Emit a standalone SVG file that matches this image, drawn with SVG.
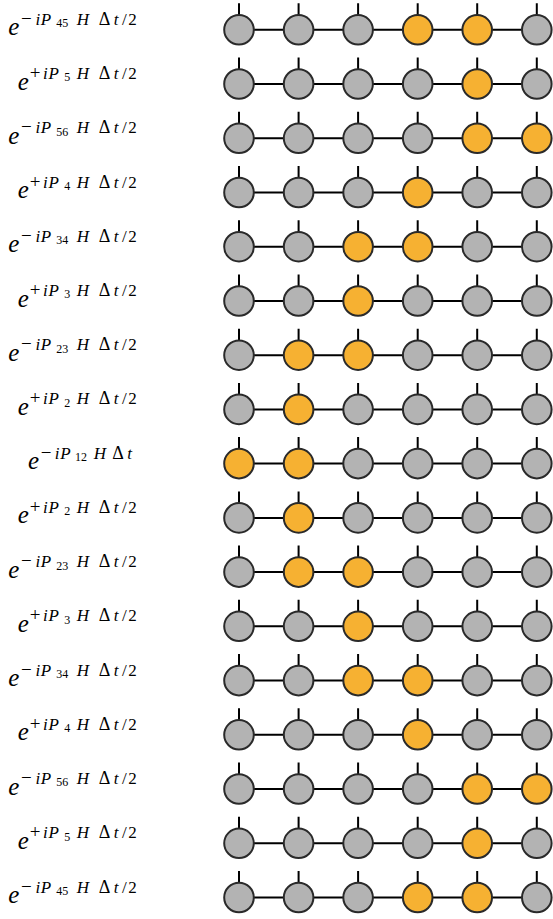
<svg xmlns="http://www.w3.org/2000/svg" xmlns:xlink="http://www.w3.org/1999/xlink" width="553" height="919" viewBox="0 0 553 919">
<style>
.g{fill:#b3b3b3;stroke:#2a2a2a;stroke-width:2}
.o{fill:#f6b132;stroke:#2a2a2a;stroke-width:2}
.w{fill:none;stroke:#000;stroke-width:2}
.lb{font-family:"Liberation Serif","Times New Roman",serif;fill:#000}
.e{font-size:25px;font-style:italic}
.sg{font-size:19px;font-style:normal}
.sl{font-size:17px;font-style:italic}
.sn{font-size:17px;font-style:normal}
.dl{font-size:18px;font-style:normal}
.sb{font-size:12px;font-style:normal}
</style>
<defs>
<path id="w" class="w" d="M239 -26.5V-14.8M298.6 -26.5V-14.8M358.1 -26.5V-14.8M417.7 -26.5V-14.8M477.2 -26.5V-14.8M536.8 -26.5V-14.8M253.8 0H283.8M313.4 0H343.3M372.9 0H402.9M432.5 0H462.4M492 0H522"/>
</defs>
<rect width="553" height="919" fill="#fff"/>
<g id="connectors">
<use href="#w" y="29.8"/><use href="#w" y="84"/><use href="#w" y="138.3"/><use href="#w" y="192.5"/><use href="#w" y="246.7"/><use href="#w" y="301"/><use href="#w" y="355.2"/><use href="#w" y="409.4"/><use href="#w" y="463.6"/><use href="#w" y="517.9"/><use href="#w" y="572.1"/><use href="#w" y="626.3"/><use href="#w" y="680.6"/><use href="#w" y="734.8"/><use href="#w" y="789"/><use href="#w" y="843.3"/><use href="#w" y="897.5"/>
</g>
<g id="row1" transform="translate(0,29.8)">
<g id="n1-1"><circle class="g" cx="239" r="14.8"/></g><g id="n1-2"><circle class="g" cx="298.6" r="14.8"/></g><g id="n1-3"><circle class="g" cx="358.1" r="14.8"/></g><g id="n1-4"><circle class="o" cx="417.7" r="14.8"/></g><g id="n1-5"><circle class="o" cx="477.2" r="14.8"/></g><g id="n1-6"><circle class="g" cx="536.8" r="14.8"/></g>
<g id="lab1"><text class="lb"><tspan class="e" x="8.3" y="5.5">e</tspan><tspan class="sg" x="21" y="-5">−</tspan><tspan class="sl" x="35.5">i</tspan><tspan class="sl" x="40.8">P</tspan><tspan class="sb" x="56.3" y="-2.6">45</tspan><tspan class="sl" x="76.8" y="-5">H</tspan><tspan class="dl" x="98.8">Δ</tspan><tspan class="sl" x="113.8">t</tspan><tspan class="sn" x="122">/</tspan><tspan class="sn" x="128.3">2</tspan></text></g>
</g>
<g id="row2" transform="translate(0,84)">
<g id="n2-1"><circle class="g" cx="239" r="14.8"/></g><g id="n2-2"><circle class="g" cx="298.6" r="14.8"/></g><g id="n2-3"><circle class="g" cx="358.1" r="14.8"/></g><g id="n2-4"><circle class="g" cx="417.7" r="14.8"/></g><g id="n2-5"><circle class="o" cx="477.2" r="14.8"/></g><g id="n2-6"><circle class="g" cx="536.8" r="14.8"/></g>
<g id="lab2"><text class="lb"><tspan class="e" x="17.8" y="5.5">e</tspan><tspan class="sg" x="29.7" y="-5">+</tspan><tspan class="sl" x="43">i</tspan><tspan class="sl" x="48.6">P</tspan><tspan class="sb" x="64.2" y="-2.6">5</tspan><tspan class="sl" x="76.8" y="-5">H</tspan><tspan class="dl" x="98.8">Δ</tspan><tspan class="sl" x="113.8">t</tspan><tspan class="sn" x="122">/</tspan><tspan class="sn" x="128.3">2</tspan></text></g>
</g>
<g id="row3" transform="translate(0,138.3)">
<g id="n3-1"><circle class="g" cx="239" r="14.8"/></g><g id="n3-2"><circle class="g" cx="298.6" r="14.8"/></g><g id="n3-3"><circle class="g" cx="358.1" r="14.8"/></g><g id="n3-4"><circle class="g" cx="417.7" r="14.8"/></g><g id="n3-5"><circle class="o" cx="477.2" r="14.8"/></g><g id="n3-6"><circle class="o" cx="536.8" r="14.8"/></g>
<g id="lab3"><text class="lb"><tspan class="e" x="8.3" y="5.5">e</tspan><tspan class="sg" x="21" y="-5">−</tspan><tspan class="sl" x="35.5">i</tspan><tspan class="sl" x="40.8">P</tspan><tspan class="sb" x="56.3" y="-2.6">56</tspan><tspan class="sl" x="76.8" y="-5">H</tspan><tspan class="dl" x="98.8">Δ</tspan><tspan class="sl" x="113.8">t</tspan><tspan class="sn" x="122">/</tspan><tspan class="sn" x="128.3">2</tspan></text></g>
</g>
<g id="row4" transform="translate(0,192.5)">
<g id="n4-1"><circle class="g" cx="239" r="14.8"/></g><g id="n4-2"><circle class="g" cx="298.6" r="14.8"/></g><g id="n4-3"><circle class="g" cx="358.1" r="14.8"/></g><g id="n4-4"><circle class="o" cx="417.7" r="14.8"/></g><g id="n4-5"><circle class="g" cx="477.2" r="14.8"/></g><g id="n4-6"><circle class="g" cx="536.8" r="14.8"/></g>
<g id="lab4"><text class="lb"><tspan class="e" x="17.8" y="5.5">e</tspan><tspan class="sg" x="29.7" y="-5">+</tspan><tspan class="sl" x="43">i</tspan><tspan class="sl" x="48.6">P</tspan><tspan class="sb" x="64.2" y="-2.6">4</tspan><tspan class="sl" x="76.8" y="-5">H</tspan><tspan class="dl" x="98.8">Δ</tspan><tspan class="sl" x="113.8">t</tspan><tspan class="sn" x="122">/</tspan><tspan class="sn" x="128.3">2</tspan></text></g>
</g>
<g id="row5" transform="translate(0,246.7)">
<g id="n5-1"><circle class="g" cx="239" r="14.8"/></g><g id="n5-2"><circle class="g" cx="298.6" r="14.8"/></g><g id="n5-3"><circle class="o" cx="358.1" r="14.8"/></g><g id="n5-4"><circle class="o" cx="417.7" r="14.8"/></g><g id="n5-5"><circle class="g" cx="477.2" r="14.8"/></g><g id="n5-6"><circle class="g" cx="536.8" r="14.8"/></g>
<g id="lab5"><text class="lb"><tspan class="e" x="8.3" y="5.5">e</tspan><tspan class="sg" x="21" y="-5">−</tspan><tspan class="sl" x="35.5">i</tspan><tspan class="sl" x="40.8">P</tspan><tspan class="sb" x="56.3" y="-2.6">34</tspan><tspan class="sl" x="76.8" y="-5">H</tspan><tspan class="dl" x="98.8">Δ</tspan><tspan class="sl" x="113.8">t</tspan><tspan class="sn" x="122">/</tspan><tspan class="sn" x="128.3">2</tspan></text></g>
</g>
<g id="row6" transform="translate(0,301)">
<g id="n6-1"><circle class="g" cx="239" r="14.8"/></g><g id="n6-2"><circle class="g" cx="298.6" r="14.8"/></g><g id="n6-3"><circle class="o" cx="358.1" r="14.8"/></g><g id="n6-4"><circle class="g" cx="417.7" r="14.8"/></g><g id="n6-5"><circle class="g" cx="477.2" r="14.8"/></g><g id="n6-6"><circle class="g" cx="536.8" r="14.8"/></g>
<g id="lab6"><text class="lb"><tspan class="e" x="17.8" y="5.5">e</tspan><tspan class="sg" x="29.7" y="-5">+</tspan><tspan class="sl" x="43">i</tspan><tspan class="sl" x="48.6">P</tspan><tspan class="sb" x="64.2" y="-2.6">3</tspan><tspan class="sl" x="76.8" y="-5">H</tspan><tspan class="dl" x="98.8">Δ</tspan><tspan class="sl" x="113.8">t</tspan><tspan class="sn" x="122">/</tspan><tspan class="sn" x="128.3">2</tspan></text></g>
</g>
<g id="row7" transform="translate(0,355.2)">
<g id="n7-1"><circle class="g" cx="239" r="14.8"/></g><g id="n7-2"><circle class="o" cx="298.6" r="14.8"/></g><g id="n7-3"><circle class="o" cx="358.1" r="14.8"/></g><g id="n7-4"><circle class="g" cx="417.7" r="14.8"/></g><g id="n7-5"><circle class="g" cx="477.2" r="14.8"/></g><g id="n7-6"><circle class="g" cx="536.8" r="14.8"/></g>
<g id="lab7"><text class="lb"><tspan class="e" x="8.3" y="5.5">e</tspan><tspan class="sg" x="21" y="-5">−</tspan><tspan class="sl" x="35.5">i</tspan><tspan class="sl" x="40.8">P</tspan><tspan class="sb" x="56.3" y="-2.6">23</tspan><tspan class="sl" x="76.8" y="-5">H</tspan><tspan class="dl" x="98.8">Δ</tspan><tspan class="sl" x="113.8">t</tspan><tspan class="sn" x="122">/</tspan><tspan class="sn" x="128.3">2</tspan></text></g>
</g>
<g id="row8" transform="translate(0,409.4)">
<g id="n8-1"><circle class="g" cx="239" r="14.8"/></g><g id="n8-2"><circle class="o" cx="298.6" r="14.8"/></g><g id="n8-3"><circle class="g" cx="358.1" r="14.8"/></g><g id="n8-4"><circle class="g" cx="417.7" r="14.8"/></g><g id="n8-5"><circle class="g" cx="477.2" r="14.8"/></g><g id="n8-6"><circle class="g" cx="536.8" r="14.8"/></g>
<g id="lab8"><text class="lb"><tspan class="e" x="17.8" y="5.5">e</tspan><tspan class="sg" x="29.7" y="-5">+</tspan><tspan class="sl" x="43">i</tspan><tspan class="sl" x="48.6">P</tspan><tspan class="sb" x="64.2" y="-2.6">2</tspan><tspan class="sl" x="76.8" y="-5">H</tspan><tspan class="dl" x="98.8">Δ</tspan><tspan class="sl" x="113.8">t</tspan><tspan class="sn" x="122">/</tspan><tspan class="sn" x="128.3">2</tspan></text></g>
</g>
<g id="row9" transform="translate(0,463.6)">
<g id="n9-1"><circle class="o" cx="239" r="14.8"/></g><g id="n9-2"><circle class="o" cx="298.6" r="14.8"/></g><g id="n9-3"><circle class="g" cx="358.1" r="14.8"/></g><g id="n9-4"><circle class="g" cx="417.7" r="14.8"/></g><g id="n9-5"><circle class="g" cx="477.2" r="14.8"/></g><g id="n9-6"><circle class="g" cx="536.8" r="14.8"/></g>
<g id="lab9"><text class="lb"><tspan class="e" x="28" y="5.5">e</tspan><tspan class="sg" x="40.7" y="-5">−</tspan><tspan class="sl" x="54.8">i</tspan><tspan class="sl" x="60.2">P</tspan><tspan class="sb" x="75" y="-2.6">12</tspan><tspan class="sl" x="93.8" y="-5">H</tspan><tspan class="dl" x="112.3">Δ</tspan><tspan class="sl" x="127.3">t</tspan></text></g>
</g>
<g id="row10" transform="translate(0,517.9)">
<g id="n10-1"><circle class="g" cx="239" r="14.8"/></g><g id="n10-2"><circle class="o" cx="298.6" r="14.8"/></g><g id="n10-3"><circle class="g" cx="358.1" r="14.8"/></g><g id="n10-4"><circle class="g" cx="417.7" r="14.8"/></g><g id="n10-5"><circle class="g" cx="477.2" r="14.8"/></g><g id="n10-6"><circle class="g" cx="536.8" r="14.8"/></g>
<g id="lab10"><text class="lb"><tspan class="e" x="17.8" y="5.5">e</tspan><tspan class="sg" x="29.7" y="-5">+</tspan><tspan class="sl" x="43">i</tspan><tspan class="sl" x="48.6">P</tspan><tspan class="sb" x="64.2" y="-2.6">2</tspan><tspan class="sl" x="76.8" y="-5">H</tspan><tspan class="dl" x="98.8">Δ</tspan><tspan class="sl" x="113.8">t</tspan><tspan class="sn" x="122">/</tspan><tspan class="sn" x="128.3">2</tspan></text></g>
</g>
<g id="row11" transform="translate(0,572.1)">
<g id="n11-1"><circle class="g" cx="239" r="14.8"/></g><g id="n11-2"><circle class="o" cx="298.6" r="14.8"/></g><g id="n11-3"><circle class="o" cx="358.1" r="14.8"/></g><g id="n11-4"><circle class="g" cx="417.7" r="14.8"/></g><g id="n11-5"><circle class="g" cx="477.2" r="14.8"/></g><g id="n11-6"><circle class="g" cx="536.8" r="14.8"/></g>
<g id="lab11"><text class="lb"><tspan class="e" x="8.3" y="5.5">e</tspan><tspan class="sg" x="21" y="-5">−</tspan><tspan class="sl" x="35.5">i</tspan><tspan class="sl" x="40.8">P</tspan><tspan class="sb" x="56.3" y="-2.6">23</tspan><tspan class="sl" x="76.8" y="-5">H</tspan><tspan class="dl" x="98.8">Δ</tspan><tspan class="sl" x="113.8">t</tspan><tspan class="sn" x="122">/</tspan><tspan class="sn" x="128.3">2</tspan></text></g>
</g>
<g id="row12" transform="translate(0,626.3)">
<g id="n12-1"><circle class="g" cx="239" r="14.8"/></g><g id="n12-2"><circle class="g" cx="298.6" r="14.8"/></g><g id="n12-3"><circle class="o" cx="358.1" r="14.8"/></g><g id="n12-4"><circle class="g" cx="417.7" r="14.8"/></g><g id="n12-5"><circle class="g" cx="477.2" r="14.8"/></g><g id="n12-6"><circle class="g" cx="536.8" r="14.8"/></g>
<g id="lab12"><text class="lb"><tspan class="e" x="17.8" y="5.5">e</tspan><tspan class="sg" x="29.7" y="-5">+</tspan><tspan class="sl" x="43">i</tspan><tspan class="sl" x="48.6">P</tspan><tspan class="sb" x="64.2" y="-2.6">3</tspan><tspan class="sl" x="76.8" y="-5">H</tspan><tspan class="dl" x="98.8">Δ</tspan><tspan class="sl" x="113.8">t</tspan><tspan class="sn" x="122">/</tspan><tspan class="sn" x="128.3">2</tspan></text></g>
</g>
<g id="row13" transform="translate(0,680.6)">
<g id="n13-1"><circle class="g" cx="239" r="14.8"/></g><g id="n13-2"><circle class="g" cx="298.6" r="14.8"/></g><g id="n13-3"><circle class="o" cx="358.1" r="14.8"/></g><g id="n13-4"><circle class="o" cx="417.7" r="14.8"/></g><g id="n13-5"><circle class="g" cx="477.2" r="14.8"/></g><g id="n13-6"><circle class="g" cx="536.8" r="14.8"/></g>
<g id="lab13"><text class="lb"><tspan class="e" x="8.3" y="5.5">e</tspan><tspan class="sg" x="21" y="-5">−</tspan><tspan class="sl" x="35.5">i</tspan><tspan class="sl" x="40.8">P</tspan><tspan class="sb" x="56.3" y="-2.6">34</tspan><tspan class="sl" x="76.8" y="-5">H</tspan><tspan class="dl" x="98.8">Δ</tspan><tspan class="sl" x="113.8">t</tspan><tspan class="sn" x="122">/</tspan><tspan class="sn" x="128.3">2</tspan></text></g>
</g>
<g id="row14" transform="translate(0,734.8)">
<g id="n14-1"><circle class="g" cx="239" r="14.8"/></g><g id="n14-2"><circle class="g" cx="298.6" r="14.8"/></g><g id="n14-3"><circle class="g" cx="358.1" r="14.8"/></g><g id="n14-4"><circle class="o" cx="417.7" r="14.8"/></g><g id="n14-5"><circle class="g" cx="477.2" r="14.8"/></g><g id="n14-6"><circle class="g" cx="536.8" r="14.8"/></g>
<g id="lab14"><text class="lb"><tspan class="e" x="17.8" y="5.5">e</tspan><tspan class="sg" x="29.7" y="-5">+</tspan><tspan class="sl" x="43">i</tspan><tspan class="sl" x="48.6">P</tspan><tspan class="sb" x="64.2" y="-2.6">4</tspan><tspan class="sl" x="76.8" y="-5">H</tspan><tspan class="dl" x="98.8">Δ</tspan><tspan class="sl" x="113.8">t</tspan><tspan class="sn" x="122">/</tspan><tspan class="sn" x="128.3">2</tspan></text></g>
</g>
<g id="row15" transform="translate(0,789)">
<g id="n15-1"><circle class="g" cx="239" r="14.8"/></g><g id="n15-2"><circle class="g" cx="298.6" r="14.8"/></g><g id="n15-3"><circle class="g" cx="358.1" r="14.8"/></g><g id="n15-4"><circle class="g" cx="417.7" r="14.8"/></g><g id="n15-5"><circle class="o" cx="477.2" r="14.8"/></g><g id="n15-6"><circle class="o" cx="536.8" r="14.8"/></g>
<g id="lab15"><text class="lb"><tspan class="e" x="8.3" y="5.5">e</tspan><tspan class="sg" x="21" y="-5">−</tspan><tspan class="sl" x="35.5">i</tspan><tspan class="sl" x="40.8">P</tspan><tspan class="sb" x="56.3" y="-2.6">56</tspan><tspan class="sl" x="76.8" y="-5">H</tspan><tspan class="dl" x="98.8">Δ</tspan><tspan class="sl" x="113.8">t</tspan><tspan class="sn" x="122">/</tspan><tspan class="sn" x="128.3">2</tspan></text></g>
</g>
<g id="row16" transform="translate(0,843.3)">
<g id="n16-1"><circle class="g" cx="239" r="14.8"/></g><g id="n16-2"><circle class="g" cx="298.6" r="14.8"/></g><g id="n16-3"><circle class="g" cx="358.1" r="14.8"/></g><g id="n16-4"><circle class="g" cx="417.7" r="14.8"/></g><g id="n16-5"><circle class="o" cx="477.2" r="14.8"/></g><g id="n16-6"><circle class="g" cx="536.8" r="14.8"/></g>
<g id="lab16"><text class="lb"><tspan class="e" x="17.8" y="5.5">e</tspan><tspan class="sg" x="29.7" y="-5">+</tspan><tspan class="sl" x="43">i</tspan><tspan class="sl" x="48.6">P</tspan><tspan class="sb" x="64.2" y="-2.6">5</tspan><tspan class="sl" x="76.8" y="-5">H</tspan><tspan class="dl" x="98.8">Δ</tspan><tspan class="sl" x="113.8">t</tspan><tspan class="sn" x="122">/</tspan><tspan class="sn" x="128.3">2</tspan></text></g>
</g>
<g id="row17" transform="translate(0,897.5)">
<g id="n17-1"><circle class="g" cx="239" r="14.8"/></g><g id="n17-2"><circle class="g" cx="298.6" r="14.8"/></g><g id="n17-3"><circle class="g" cx="358.1" r="14.8"/></g><g id="n17-4"><circle class="o" cx="417.7" r="14.8"/></g><g id="n17-5"><circle class="o" cx="477.2" r="14.8"/></g><g id="n17-6"><circle class="g" cx="536.8" r="14.8"/></g>
<g id="lab17"><text class="lb"><tspan class="e" x="8.3" y="5.5">e</tspan><tspan class="sg" x="21" y="-5">−</tspan><tspan class="sl" x="35.5">i</tspan><tspan class="sl" x="40.8">P</tspan><tspan class="sb" x="56.3" y="-2.6">45</tspan><tspan class="sl" x="76.8" y="-5">H</tspan><tspan class="dl" x="98.8">Δ</tspan><tspan class="sl" x="113.8">t</tspan><tspan class="sn" x="122">/</tspan><tspan class="sn" x="128.3">2</tspan></text></g>
</g>
</svg>
